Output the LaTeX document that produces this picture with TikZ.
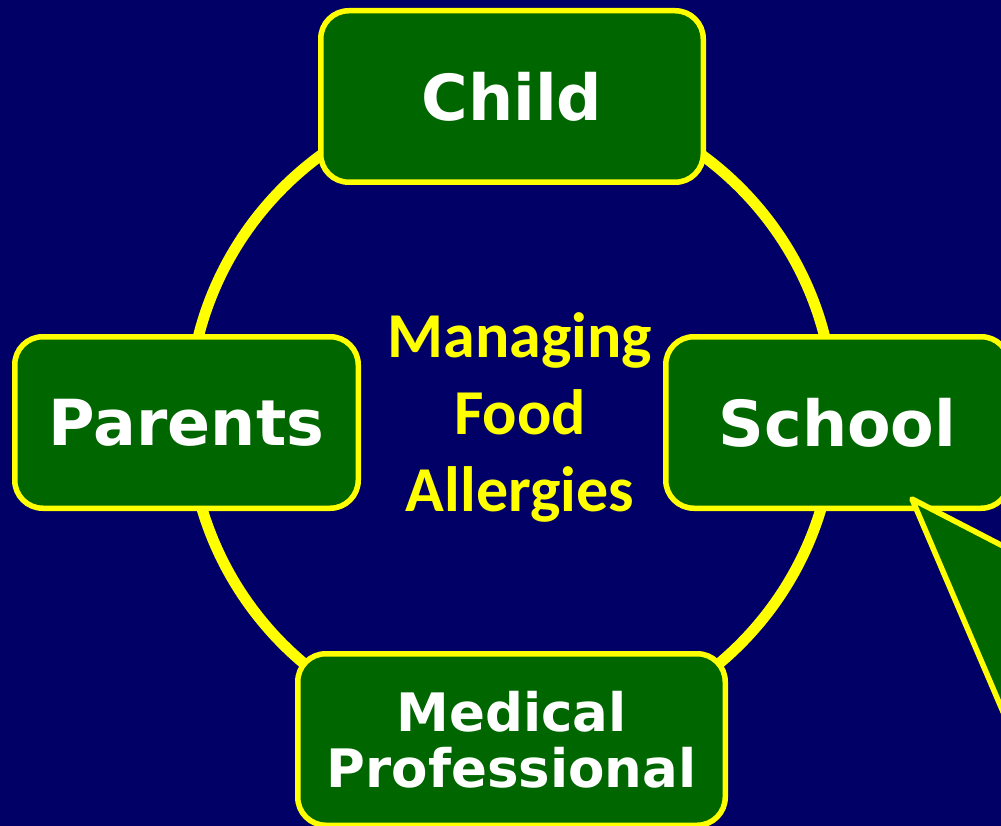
\documentclass[tikz,border=0pt]{standalone}
\usepackage{fontspec}
\setmainfont{DejaVu Sans}
\newfontfamily\calibrifont{Carlito}
\usepackage{tikz}
\usetikzlibrary{positioning}
\definecolor{slidenavy}{RGB}{0,0,102}
\definecolor{boxgreen}{RGB}{0,102,0}
\definecolor{ringyellow}{RGB}{255,255,0}

\tikzset{
  rolebox/.style={draw=ringyellow, fill=boxgreen, line width=5.5pt, rounded corners=28pt,
    minimum height=171.5pt, inner sep=0pt, text=white, align=center,
    font=\bfseries\fontsize{63.5}{68}\selectfont},
}

\begin{document}
\begin{tikzpicture}[x=1pt, y=-1pt]

  % --- Fundo do slide ---
  \fill[slidenavy] (0,0) rectangle (1001,826);
  \useasboundingbox (0,0) rectangle (1001,826);
  \clip (0,0) rectangle (1001,826);

  % Anel que liga os quatro blocos
  \coordinate (hub) at (511.5,416);
  \draw[ringyellow, line width=11pt] (hub) circle (323pt);

  % --- Blocos em volta do anel ---
  \node[rolebox, minimum width=382.5pt] (child) at (512,96.5) {Child};
  \node[rolebox, minimum width=343.5pt] (parents) at (186.5,422.5) {Parents};
  \node[rolebox, minimum width=343.5pt] (school) at (837.5,422.5) {School};
  \node[rolebox, minimum width=427.5pt, font=\bfseries\fontsize{53}{56}\selectfont]
    (medical) at (511.5,739.5) {Medical\\Professional};

  % Tema no centro
  \node[text=ringyellow, align=center, font=\calibrifont\bfseries\fontsize{64}{77}\selectfont]
    (topic) at (520,417) {Managing\\Food\\Allergies};

  % Ponta do balão que sai do bloco da escola
  \coordinate (tip) at (912,499);
  \filldraw[draw=ringyellow, fill=boxgreen, line width=5.5pt, line join=round]
    (tip) -- (1060,575.5) -- (1060,845) -- cycle;

\end{tikzpicture}
\end{document}
